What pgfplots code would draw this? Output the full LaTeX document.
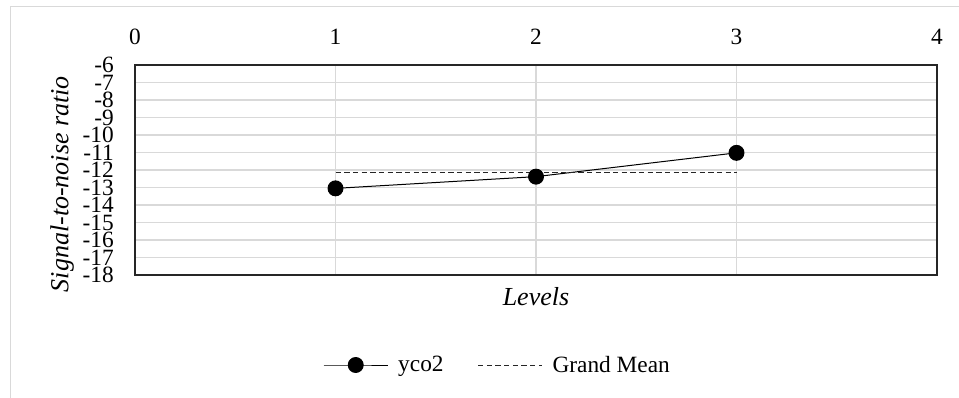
\documentclass[border=0pt]{standalone}
\usepackage{pgfplots}
\pgfplotsset{compat=1.18}
\usepackage{fontspec}
\setmainfont{Liberation Serif}
\definecolor{gridgray}{HTML}{D9D9D9}
\definecolor{framegray}{HTML}{262626}
\begin{document}
\begin{tikzpicture}
\useasboundingbox (0,0) rectangle (719.25pt,298.5pt);
% chart area border
\draw[gridgray, line width=0.75pt] (7.9pt,0) -- (7.9pt,293.25pt) -- (719.25pt,293.25pt);
\begin{axis}[
  at={(101.25pt,92.25pt)}, anchor=south west,
  scale only axis, width=601.5pt, height=157.5pt,
  xmin=0, xmax=4, ymin=-18, ymax=-6,
  xtick={1,2,3}, extra x ticks={0,4}, extra x tick style={grid=none},
  ytick={-17,...,-7}, extra y ticks={-18,-6}, extra y tick style={grid=none},
  xmajorgrids, ymajorgrids,
  major grid style={gridgray, line width=1pt},
  axis line style={framegray, line width=1pt},
  tick style={draw=none},
  xticklabel pos=upper,
  /pgf/number format/assume math mode=true,
  ticklabel style={font=\fontsize{17.5}{17.5}\selectfont},
  yticklabel style={anchor=east, inner sep=0pt, xshift=-15.75pt},
  xticklabel style={anchor=south, inner sep=0pt, yshift=15pt},
  ylabel={Signal-to-noise ratio},
  ylabel style={at={(axis description cs:-0.091,0.433)}, anchor=center,
    font=\fontsize{19.5}{19.5}\selectfont\itshape},
  xlabel={Levels},
  xlabel style={at={(axis description cs:0.5,-0.102)}, anchor=center,
    font=\fontsize{19.5}{19.5}\selectfont\itshape},
  legend columns=2,
  legend cell align=left,
  legend style={at={(axis description cs:0.4508,-0.4286)}, anchor=center,
    draw=none, fill=none, inner sep=0pt,
    font=\fontsize{17.5}{17.5}\selectfont,
    nodes={inner sep=0pt},
    /tikz/every odd column/.append style={column sep=7.5pt},
    /tikz/every even column/.append style={column sep=25.5pt}},
  legend image code/.code={\draw[mark repeat=2,mark phase=2,#1]
    plot coordinates {(0pt,0pt)(24pt,0pt)(48pt,0pt)};},
]
\addplot[black, line width=0.75pt, mark=*, mark size=5.6pt]
  coordinates {(1,-13.05) (2,-12.38) (3,-11.02)};
\addlegendentry{yco2}
\addplot[black!85, line width=0.75pt, dash pattern=on 4pt off 2.5pt]
  coordinates {(1,-12.15) (3,-12.15)};
\addlegendentry{Grand Mean}
\end{axis}
\end{tikzpicture}
\end{document}
